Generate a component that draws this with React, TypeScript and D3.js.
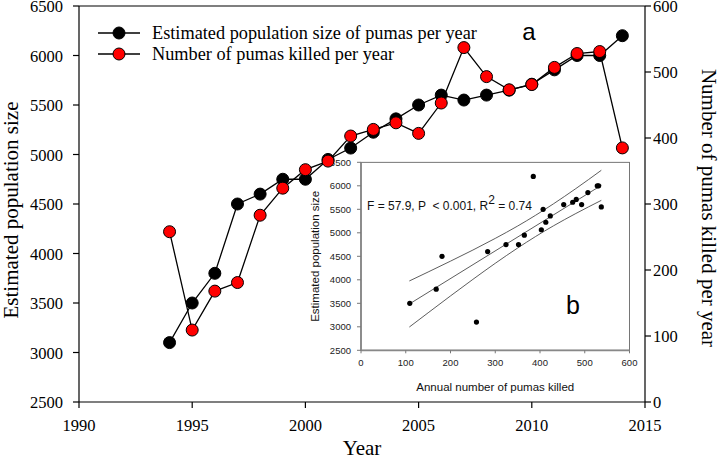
import React from "react";
import * as d3 from "d3";

const years = [1994,1995,1996,1997,1998,1999,2000,2001,2002,2003,2004,2005,2006,2007,2008,2009,2010,2011,2012,2013,2014];
const population = [3100,3500,3800,4500,4600,4750,4750,4950,5065,5225,5360,5500,5600,5550,5600,5650,5710,5855,6000,6000,6200];
const killed = [258,109,168,181,283,324,352,365,403,413,423,407,453,537,493,473,481,507,528,531,385];

const xTicks = [1990,1995,2000,2005,2010,2015];
const yLeftTicks = [2500,3000,3500,4000,4500,5000,5500,6000,6500];
const yRightTicks = [0,100,200,300,400,500,600];

const insetXTicks = [0,100,200,300,400,500,600];
const insetYTicks = [2500,3000,3500,4000,4500,5000,5500,6000,6500];

const fitKilled = [108,537];
const fitPop = [3485,6010];
const ciKilled = [108,150,200,250,300,350,390,430,480,537];
const ciUpper = [3975,4166,4397,4633,4881,5144,5372,5616,5940,6330];
const ciLower = [2995,3298,3657,4009,4351,4676,4920,5148,5410,5690];

const legendLabels = ["Estimated population size of pumas per year","Number of pumas killed per year"];
const statsText = "F = 57.9, P  < 0.001, R";

const SERIF = "'Liberation Serif','Times New Roman',serif";
const SANS = "'Liberation Sans',Arial,sans-serif";

export default function App() {
  const W = 720, H = 465;
  const x = d3.scaleLinear().domain([1990, 2015]).range([79, 645]);
  const yL = d3.scaleLinear().domain([2500, 6500]).range([402, 6]);
  const yR = d3.scaleLinear().domain([0, 600]).range([402, 6]);

  const ix = d3.scaleLinear().domain([0, 600]).range([361, 629.5]);
  const iy = d3.scaleLinear().domain([2500, 6500]).range([350.3, 162.3]);

  const popLine = d3.line<number>().x((_, i) => x(years[i])).y((d) => yL(d))(population) || "";
  const killLine = d3.line<number>().x((_, i) => x(years[i])).y((d) => yR(d))(killed) || "";

  const fitPath = d3.line<number>().x((_, i) => ix(fitKilled[i])).y((d) => iy(d))(fitPop) || "";
  const ciLineGen = d3.line<number>().curve(d3.curveMonotoneX).x((_, i) => ix(ciKilled[i])).y((d) => iy(d));
  const upPath = ciLineGen(ciUpper) || "";
  const loPath = ciLineGen(ciLower) || "";

  const [x0, x1] = x.range();
  const [yb, yt] = yL.range();
  const [ix0, ix1] = ix.range();
  const [iyb, iyt] = iy.range();

  return (
    <div style={{ position: "absolute", left: 0, top: 0 }}>
      <svg width={W} height={H} style={{ display: "block", background: "#fff" }}>
        {/* main frame */}
        <line x1={x0} x2={x1} y1={yt} y2={yt} stroke="#000" strokeWidth={1.2} />
        <line x1={x0} x2={x0} y1={yt} y2={yb} stroke="#000" strokeWidth={1.2} />
        <line x1={x1} x2={x1} y1={yt} y2={yb} stroke="#000" strokeWidth={1.2} />
        <line x1={x0} x2={x1} y1={yb} y2={yb} stroke="#000" strokeWidth={1.2} />

        {xTicks.map((t) => (
          <g key={"xt" + t}>
            <line x1={x(t)} x2={x(t)} y1={yb} y2={yb + 6} stroke="#000" strokeWidth={1.2} />
            <text x={x(t)} y={yb + 29} textAnchor="middle" fontFamily={SERIF} fontSize={16.5} fill="#000">{t}</text>
          </g>
        ))}
        {yLeftTicks.map((t) => (
          <g key={"yl" + t}>
            <line x1={x0 - 6} x2={x0} y1={yL(t)} y2={yL(t)} stroke="#000" strokeWidth={1.2} />
            <text x={x0 - 16} y={yL(t) + 6} textAnchor="end" fontFamily={SERIF} fontSize={16.5} fill="#000">{t}</text>
          </g>
        ))}
        {yRightTicks.map((t) => (
          <g key={"yr" + t}>
            <line x1={x1} x2={x1 + 6} y1={yR(t)} y2={yR(t)} stroke="#000" strokeWidth={1.2} />
            <text x={x1 + 8} y={yR(t) + 6} textAnchor="start" fontFamily={SERIF} fontSize={16.5} fill="#000">{t}</text>
          </g>
        ))}

        <text x={362} y={455} textAnchor="middle" fontFamily={SERIF} fontSize={21} fill="#000">Year</text>
        <text transform={`translate(18,${(yt + yb) / 2 + 6}) rotate(-90)`} textAnchor="middle" fontFamily={SERIF} fontSize={21} fill="#000">Estimated population size</text>
        <text transform={`translate(702,${(yt + yb) / 2 + 4}) rotate(90)`} textAnchor="middle" fontFamily={SERIF} fontSize={21} fill="#000">Number of pumas killed per year</text>

        {/* inset */}
        <rect x={ix0} y={iyt} width={ix1 - ix0} height={iyb - iyt} fill="#fff" stroke="#555" strokeWidth={0.8} />
        <line x1={ix0} x2={ix0} y1={iyt} y2={iyb} stroke="#888" strokeWidth={1.8} />
        <line x1={ix0} x2={ix1} y1={iyb} y2={iyb} stroke="#888" strokeWidth={1.8} />
        {insetYTicks.map((t) => (
          <g key={"iy" + t}>
            <line x1={ix0 - 4} x2={ix0} y1={iy(t)} y2={iy(t)} stroke="#777" strokeWidth={1} />
            <text x={ix0 - 10} y={iy(t) + 3.5} textAnchor="end" fontFamily={SANS} fontSize={9.5} fill="#222">{t}</text>
          </g>
        ))}
        {insetXTicks.map((t) => (
          <g key={"ix" + t}>
            <line x1={ix(t)} x2={ix(t)} y1={iyb} y2={iyb + 3} stroke="#777" strokeWidth={1} />
            <text x={ix(t)} y={iyb + 16} textAnchor="middle" fontFamily={SANS} fontSize={9.5} fill="#222">{t}</text>
          </g>
        ))}
        <text x={(ix0 + ix1) / 2} y={iyb + 41} textAnchor="middle" fontFamily={SANS} fontSize={11.5} fill="#111">Annual number of pumas killed</text>
        <text transform={`translate(319,${(iyt + iyb) / 2}) rotate(-90)`} textAnchor="middle" fontFamily={SANS} fontSize={11.5} fill="#111">Estimated population size</text>

        <path d={upPath} fill="none" stroke="#333" strokeWidth={0.8} />
        <path d={loPath} fill="none" stroke="#333" strokeWidth={0.8} />
        <path d={fitPath} fill="none" stroke="#333" strokeWidth={0.8} />
        {killed.map((k, i) => (
          <circle key={"sc" + i} cx={ix(k)} cy={iy(population[i])} r={2.6} fill="#000" />
        ))}
        <text x={367} y={210} fontFamily={SANS} fontSize={12} fill="#111" style={{ whiteSpace: "pre" }}>
          {statsText}
          <tspan dy={-6} fontSize={12}>2</tspan>
          <tspan dy={6}> = 0.74</tspan>
        </text>
        <text x={573} y={314} textAnchor="middle" fontFamily={SANS} fontSize={25} fill="#000">b</text>

        {/* series */}
        <path d={popLine} fill="none" stroke="#000" strokeWidth={1.3} />
        {population.map((p, i) => (
          <circle key={"p" + i} cx={x(years[i])} cy={yL(p)} r={6} fill="#000" stroke="#000" strokeWidth={1} />
        ))}
        <path d={killLine} fill="none" stroke="#000" strokeWidth={1.3} />
        {killed.map((k, i) => (
          <circle key={"k" + i} cx={x(years[i])} cy={yR(k)} r={6} fill="#ff0000" stroke="#000" strokeWidth={1} />
        ))}

        <text x={529} y={40} textAnchor="middle" fontFamily={SANS} fontSize={24} fill="#000">a</text>

        {/* legend */}
        {legendLabels.map((lab, i) => (
          <g key={"lg" + i}>
            <line x1={98} x2={140} y1={33 + i * 21} y2={33 + i * 21} stroke="#000" strokeWidth={1.3} />
            <circle cx={119} cy={33 + i * 21} r={6} fill={i === 0 ? "#000" : "#ff0000"} stroke="#000" strokeWidth={1} />
            <text x={152} y={39 + i * 21} fontFamily={SERIF} fontSize={18.3} fill="#000">{lab}</text>
          </g>
        ))}
      </svg>
    </div>
  );
}
